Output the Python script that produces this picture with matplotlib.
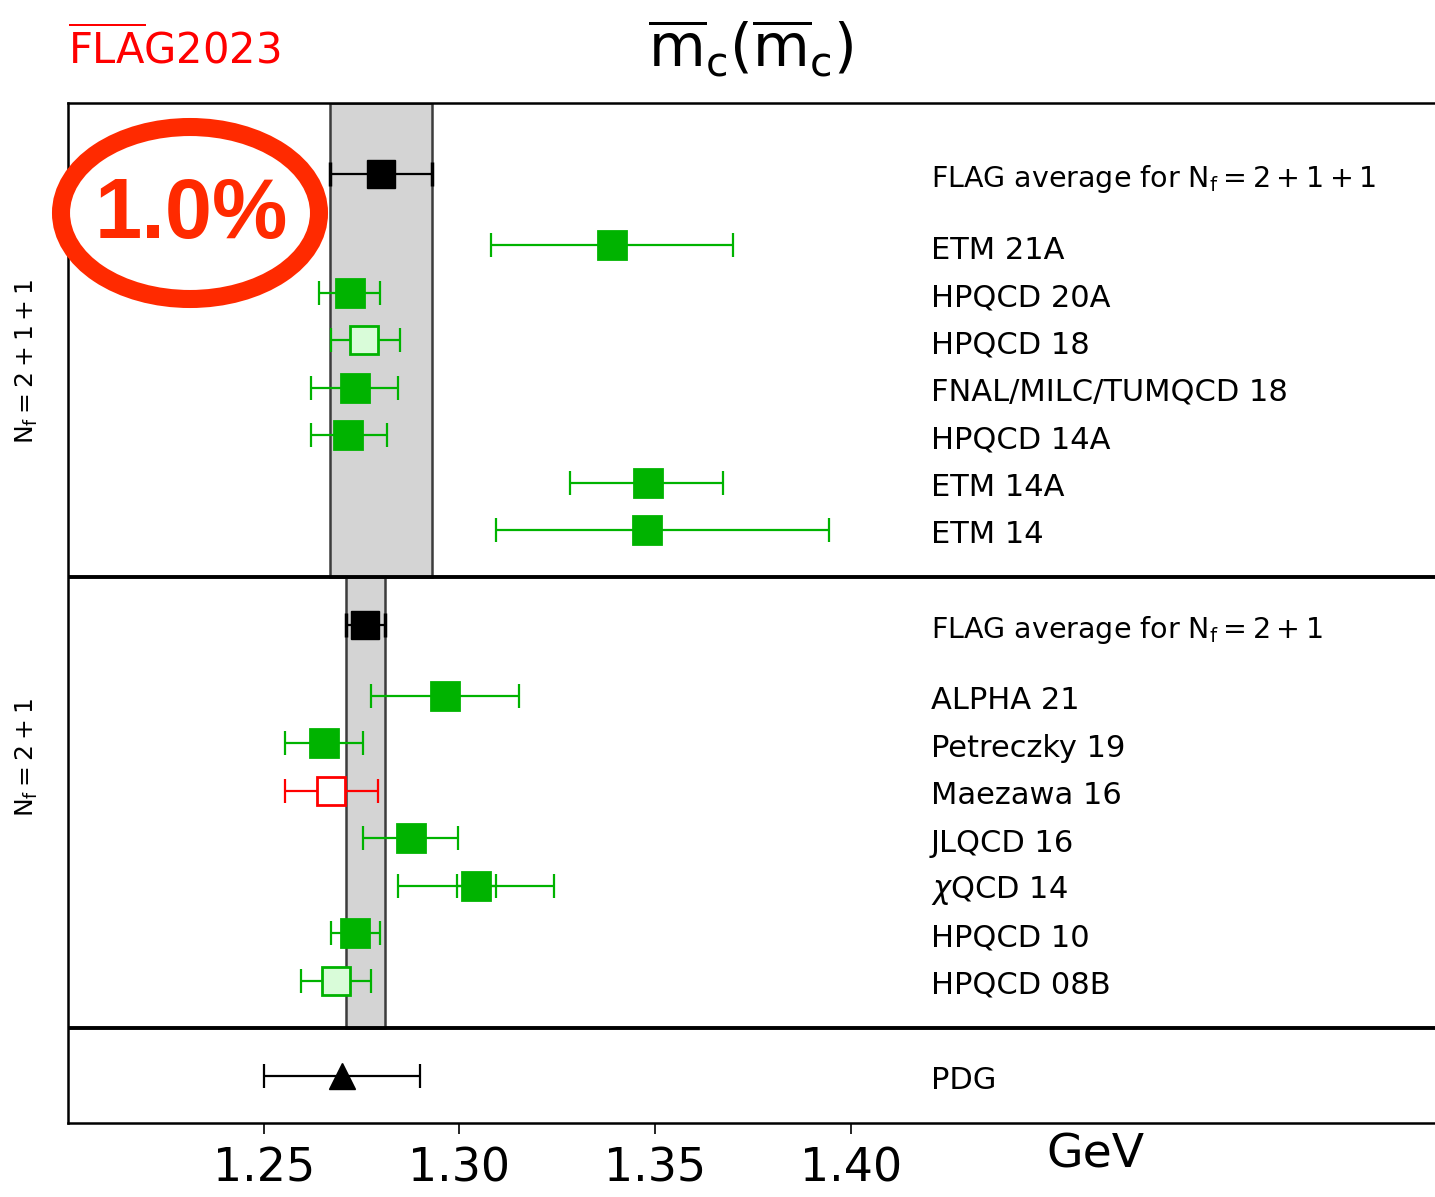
import matplotlib.pyplot as plt
from matplotlib.patches import Ellipse

# Nf = 2+1+1 results (GeV)
labels_4 = ['ETM 21A', 'HPQCD 20A', 'HPQCD 18', 'FNAL/MILC/TUMQCD 18',
            'HPQCD 14A', 'ETM 14A', 'ETM 14']
mc_4 = [1.339, 1.2720, 1.2757, 1.2732, 1.2716, 1.3482, 1.348]
lo_4 = [0.031, 0.0078, 0.0084, 0.0110, 0.0095, 0.0200, 0.0386]
hi_4 = [0.031, 0.0078, 0.0090, 0.0112, 0.0098, 0.0192, 0.0464]
style_4 = ['full', 'full', 'light', 'full', 'full', 'full', 'full']

# Nf = 2+1 results (GeV)
labels_3 = ['ALPHA 21', 'Petreczky 19', 'Maezawa 16', 'JLQCD 16',
            r'$\chi$QCD 14', 'HPQCD 10', 'HPQCD 08B']
mc_3 = [1.2964, 1.2653, 1.2673, 1.2875, 1.3043, 1.2732, 1.2684]
lo_3 = [0.0191, 0.0099, 0.0119, 0.0122, 0.0199, 0.0059, 0.0090]
hi_3 = [0.0189, 0.0100, 0.0120, 0.0122, 0.0199, 0.0064, 0.0089]
stat_3 = [None, None, None, None, 0.0050, None, None]
style_3 = ['full', 'full', 'open', 'full', 'full', 'full', 'light']

# FLAG averages and PDG
flag_4 = (1.280, 0.013)
flag_3 = (1.276, 0.005)
pdg = (1.270, 0.020)

green = '#00b300'
light = '#d9fcd9'
red = '#ff0000'

fig = plt.figure(figsize=(14.35, 11.97), dpi=100)
ax = fig.add_axes([68 / 1435, 1 - 1123 / 1197, 1370 / 1435, 1020 / 1197])
ax.set_xlim(1.20, 1.55)
ax.set_ylim(0, 21.5)

# grey bands for the averages
ax.axvspan(flag_4[0] - flag_4[1], flag_4[0] + flag_4[1], ymin=11.5 / 21.5, ymax=1,
           facecolor='#d4d4d4', edgecolor='#3c3c3c', lw=1.8, zorder=0)
ax.axvspan(flag_3[0] - flag_3[1], flag_3[0] + flag_3[1], ymin=2 / 21.5, ymax=11.5 / 21.5,
           facecolor='#d4d4d4', edgecolor='#3c3c3c', lw=1.8, zorder=0)

# panel dividers
ax.axhline(11.5, color='black', lw=2.8)
ax.axhline(2, color='black', lw=2.8)

xtext = 1.4204


def point(x, y, lo, hi, kind, col=green):
    if kind == 'full':
        fc, ec = col, col
    elif kind == 'light':
        fc, ec = light, col
    else:
        fc, ec = 'white', col
    ax.errorbar(x, y, xerr=[[lo], [hi]], fmt='none', ecolor=col, elinewidth=1.6,
                capsize=8.5, capthick=1.6, zorder=2)
    ax.plot(x, y, 's', ms=20, mfc=fc, mec=ec, mew=2.0, zorder=3)


# 2+1+1 panel
ax.errorbar(flag_4[0], 20.0, xerr=flag_4[1], fmt='s', color='black', ms=20,
            elinewidth=1.6, capsize=8.5, capthick=2.5, zorder=3)
ax.text(xtext, 19.9, r'FLAG average for $\mathrm{N_f=2+1+1}$', fontsize=20.5, va='center')
for i, lab in enumerate(labels_4):
    y = 18.5 - i
    point(mc_4[i], y, lo_4[i], hi_4[i], style_4[i])
    ax.text(xtext, y - 0.1, lab, fontsize=22, va='center')

# 2+1 panel
ax.errorbar(flag_3[0], 10.5, xerr=flag_3[1], fmt='s', color='black', ms=20,
            elinewidth=1.6, capsize=8.5, capthick=2.5, zorder=3)
ax.text(xtext, 10.4, r'FLAG average for $\mathrm{N_f=2+1}$', fontsize=20.5, va='center')
for i, lab in enumerate(labels_3):
    y = 9 - i
    col = red if style_3[i] == 'open' else green
    if stat_3[i] is not None:
        ax.errorbar(mc_3[i], y, xerr=stat_3[i], fmt='none', ecolor=col, elinewidth=1.6,
                    capsize=8.5, capthick=1.6, zorder=2)
    point(mc_3[i], y, lo_3[i], hi_3[i], style_3[i], col)
    ax.text(xtext, y - 0.1, lab, fontsize=22, va='center')

# PDG
ax.errorbar(pdg[0], 1.0, xerr=pdg[1], fmt='^', color='black', ms=19,
            elinewidth=1.6, capsize=8.5, capthick=1.6, zorder=3)
ax.text(xtext, 0.9, 'PDG', fontsize=22, va='center')

# axes styling
ax.set_yticks([])
ax.set_xticks([1.25, 1.30, 1.35, 1.40])
ax.set_xticklabels(['1.25', '1.30', '1.35', '1.40'])
ax.tick_params(axis='x', direction='out', length=8, width=1.2, labelsize=33, pad=9)
for s in ax.spines.values():
    s.set_linewidth(1.8)
ax.text(1.4625, -0.2, 'GeV', fontsize=34, ha='center', va='top')

# side labels
fig.text(0.019, 1 - 361 / 1197, r'$\mathrm{N_f=2+1+1}$', rotation=90, fontsize=18,
         ha='center', va='center')
fig.text(0.019, 1 - 758 / 1197, r'$\mathrm{N_f=2+1}$', rotation=90, fontsize=18,
         ha='center', va='center')

# title and logo
fig.text(751 / 1435, 1 - 48 / 1197,
         r'$\overline{\mathrm{m}}_\mathrm{c}(\overline{\mathrm{m}}_\mathrm{c})$',
         fontsize=42, ha='center', va='center')
fig.text(68 / 1435, 1 - 50 / 1197, r'$\overline{\mathrm{FLA}}\mathrm{G}$2023', color=red,
         fontsize=30, ha='left', va='center')

# percentage badge
badge = '#ff2a00'
fig.add_artist(Ellipse((190 / 1435, 1 - 213 / 1197), 258 / 1435, 172 / 1197,
                       transform=fig.transFigure, fill=False, ec=badge, lw=13))
fig.text(191 / 1435, 1 - 216 / 1197, '1.0%', color=badge, fontsize=61,
         fontweight='bold', family='Liberation Sans', ha='center', va='center')

fig.savefig('out.png', dpi=100)
